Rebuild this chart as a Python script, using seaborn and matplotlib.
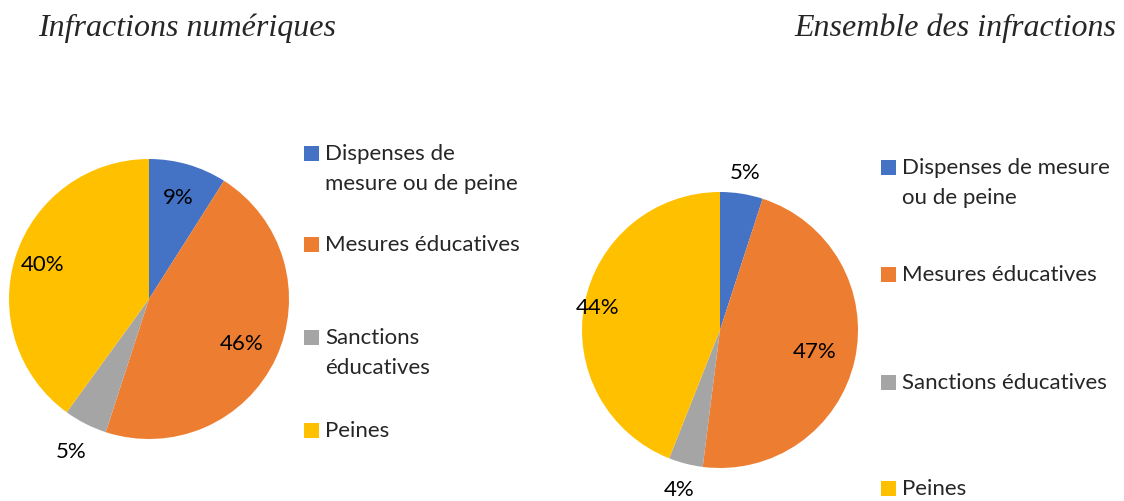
import matplotlib
matplotlib.use("Agg")
import matplotlib.pyplot as plt
import numpy as np
import seaborn as sns
from matplotlib.patches import Rectangle
from matplotlib.transforms import Bbox, TransformedBbox

categories = ["Dispenses de mesure ou de peine", "Mesures éducatives",
              "Sanctions éducatives", "Peines"]
numeriques = [9, 46, 5, 40]
ensemble = [5, 47, 4, 44]
colors = ["#4472C4", "#ED7D31", "#A5A5A5", "#FFC000"]

# legend text as wrapped by the original layout
legend_num = ["Dispenses de\nmesure ou de peine", "Mesures éducatives",
              "Sanctions\néducatives", "Peines"]
legend_ens = ["Dispenses de mesure\nou de peine", "Mesures éducatives",
              "Sanctions éducatives", "Peines"]

W, H = 1124, 502


def px_axes(fig, x0, y0, x1, y1):
    return fig.add_axes([x0 / W, 1 - y1 / H, (x1 - x0) / W, (y1 - y0) / H])


def draw_pie(ax, values, label_r):
    wedges, _ = ax.pie(values, colors=colors, startangle=90, counterclock=False,
                       wedgeprops=dict(linewidth=0))
    for w, v, r in zip(wedges, values, label_r):
        ang = np.deg2rad((w.theta1 + w.theta2) / 2)
        ax.text(r * np.cos(ang), r * np.sin(ang), f"{v}%", ha="center", va="center",
                fontsize=16, color="#000000", clip_on=False)
    ax.set_xlim(-1, 1)
    ax.set_ylim(-1, 1)
    ax.set_aspect("equal")
    ax.axis("off")
    return wedges


def draw_legend(fig, wedges, labels, x_sq, ys, clip_x=None):
    for w, lab, y in zip(wedges, labels, ys):
        fig.add_artist(Rectangle((x_sq / W, 1 - (y + 8) / H), 15 / W, 15 / H,
                                 transform=fig.transFigure,
                                 facecolor=w.get_facecolor(), edgecolor="none"))
        t = fig.text((x_sq + 21) / W, 1 - (y - 10) / H, lab, ha="left", va="top",
                     fontsize=16, linespacing=1.6)
        if clip_x is not None:
            t.set_clip_box(TransformedBbox(Bbox.from_extents(0, 0, clip_x / W, 1),
                                           fig.transFigure))
            t.set_clip_on(True)


sns.set_style("white")
plt.rcParams["font.family"] = ["Lato", "DejaVu Sans"]

fig = plt.figure(figsize=(W / 100, H / 100), dpi=100)

ax1 = px_axes(fig, 9, 160, 289, 440)
w1 = draw_pie(ax1, numeriques, [0.76, 0.73, 1.22, 0.8])
ax2 = px_axes(fig, 582, 193, 858, 469)
w2 = draw_pie(ax2, ensemble, [1.16, 0.7, 1.19, 0.9])

draw_legend(fig, w1, legend_num, 304, [154, 245, 338, 431], clip_x=530)
draw_legend(fig, w2, legend_ens, 881, [168, 275, 383, 489])

title_font = dict(family="Liberation Serif", style="italic", fontsize=23)
fig.text(38 / W, 1 - 28 / H, "Infractions numériques", ha="left", va="center", **title_font)
fig.text(1116 / W, 1 - 28 / H, "Ensemble des infractions", ha="right", va="center", **title_font)

fig.savefig("out.png", dpi=100, facecolor="white")
